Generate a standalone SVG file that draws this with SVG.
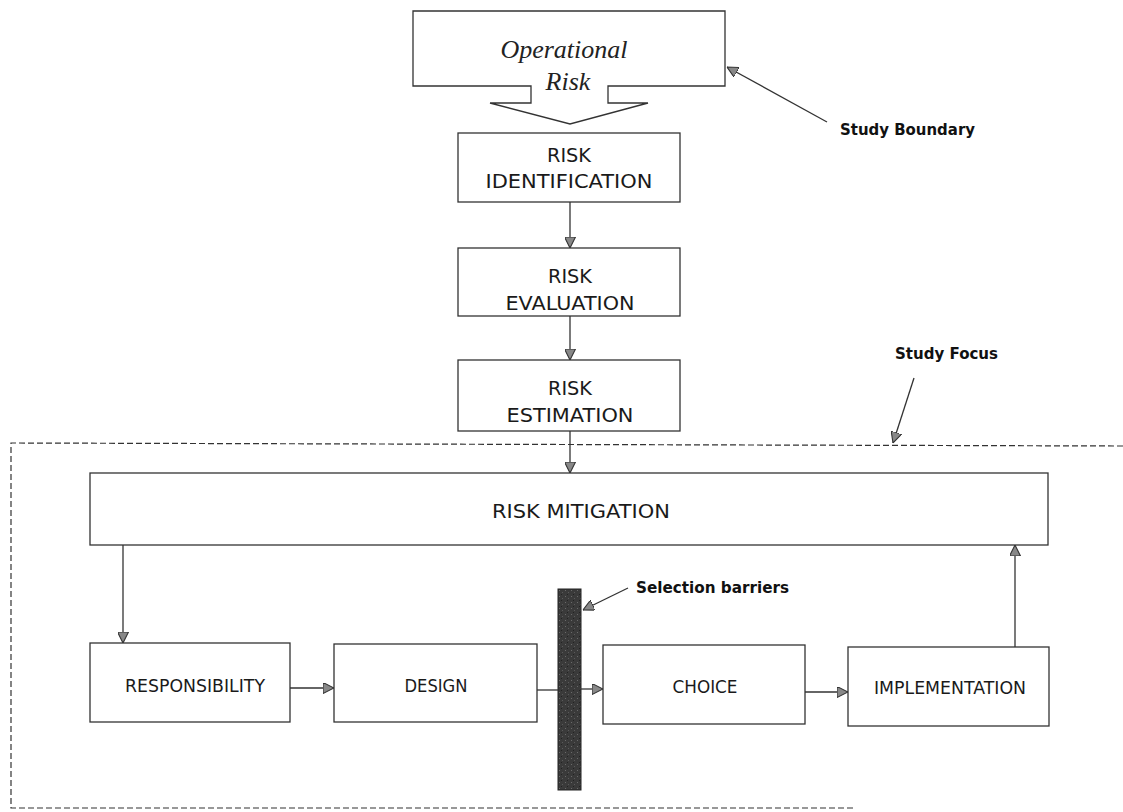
<svg xmlns="http://www.w3.org/2000/svg" width="1123" height="812" viewBox="0 0 1123 812">
  <style>
    .box { fill: #ffffff; stroke: #333333; stroke-width: 1.3; }
    .lbl { font-family: "DejaVu Sans", Verdana, sans-serif; fill: #1a1a1a; text-anchor: middle; }
    .top { font-size: 19px; }
    .mid { font-size: 20px; }
    .low { font-size: 17px; }
    .note { font-family: "DejaVu Sans", sans-serif; font-size: 16px; font-weight: 600; fill: #111111; }
    .conn { stroke: #333333; stroke-width: 1.3; fill: none; marker-end: url(#head); }
    .plain { stroke: #333333; stroke-width: 1.3; fill: none; }
    .dash { stroke: #333333; stroke-width: 1.2; fill: none; stroke-dasharray: 6 3; }
  </style>
  <defs>
    <marker id="head" viewBox="0 0 10 10" refX="10" refY="5" markerWidth="11" markerHeight="11" markerUnits="userSpaceOnUse" orient="auto">
      <path d="M0,0 L10,5 L0,10 Z" fill="#888888" stroke="#333333" stroke-width="1"/>
    </marker>
    <pattern id="grain" width="6" height="6" patternUnits="userSpaceOnUse">
      <rect width="6" height="6" fill="#3a3a3a"/>
      <rect x="1" y="2" width="1" height="1" fill="#6a6a6a"/>
      <rect x="4" y="4" width="1" height="1" fill="#5a5a5a"/>
      <rect x="3" y="0" width="1" height="1" fill="#222222"/>
    </pattern>
  </defs>

  <rect width="1123" height="812" fill="#ffffff"/>

  <!-- study focus frame (open on the right) -->
  <path class="dash" d="M1123,446 L11,443 L11,808 L853,808"/>

  <!-- Operational Risk block arrow -->
  <g id="operational-risk">
    <path class="box" d="M413,11 L725,11 L725,86 L608,86 L608,103 L648,103 L570,124 L490,103 L531,103 L531,86 L413,86 Z"/>
    <text x="564" y="58" font-family="'Liberation Serif', 'Times New Roman', serif" font-style="italic" font-size="26" fill="#222222" text-anchor="middle">Operational</text>
    <text x="568" y="90" font-family="'Liberation Serif', 'Times New Roman', serif" font-style="italic" font-size="26" fill="#222222" text-anchor="middle">Risk</text>
  </g>

  <g id="risk-identification">
    <rect class="box" x="458" y="133" width="222" height="69"/>
    <text class="lbl top" x="569" y="162" textLength="44" lengthAdjust="spacingAndGlyphs">RISK</text>
    <text class="lbl top" x="569" y="188" textLength="167" lengthAdjust="spacingAndGlyphs">IDENTIFICATION</text>
  </g>

  <g id="risk-evaluation">
    <rect class="box" x="458" y="248" width="222" height="68"/>
    <text class="lbl top" x="570" y="283" textLength="44" lengthAdjust="spacingAndGlyphs">RISK</text>
    <text class="lbl top" x="570" y="310" textLength="129" lengthAdjust="spacingAndGlyphs">EVALUATION</text>
  </g>

  <g id="risk-estimation">
    <rect class="box" x="458" y="360" width="222" height="71"/>
    <text class="lbl top" x="570" y="395" textLength="44" lengthAdjust="spacingAndGlyphs">RISK</text>
    <text class="lbl top" x="570" y="422" textLength="127" lengthAdjust="spacingAndGlyphs">ESTIMATION</text>
  </g>

  <g id="risk-mitigation">
    <rect class="box" x="90" y="473" width="958" height="72"/>
    <text class="lbl mid" x="581" y="518" textLength="178" lengthAdjust="spacingAndGlyphs">RISK MITIGATION</text>
  </g>

  <g id="responsibility">
    <rect class="box" x="90" y="643" width="200" height="79"/>
    <text class="lbl low" x="195" y="692" textLength="140" lengthAdjust="spacingAndGlyphs">RESPONSIBILITY</text>
  </g>

  <g id="design">
    <rect class="box" x="334" y="644" width="203" height="78"/>
    <text class="lbl low" x="436" y="692" textLength="63" lengthAdjust="spacingAndGlyphs">DESIGN</text>
  </g>

  <g id="choice">
    <rect class="box" x="603" y="645" width="202" height="79"/>
    <text class="lbl low" x="705" y="693" textLength="65" lengthAdjust="spacingAndGlyphs">CHOICE</text>
  </g>

  <g id="implementation">
    <rect class="box" x="848" y="647" width="201" height="79"/>
    <text class="lbl low" x="950" y="694" textLength="152" lengthAdjust="spacingAndGlyphs">IMPLEMENTATION</text>
  </g>

  <!-- selection barrier bar -->
  <g id="selection-barrier">
    <rect x="558" y="589" width="23" height="201" fill="url(#grain)" stroke="#222222" stroke-width="1"/>
  </g>

  <!-- connectors -->
  <g id="connectors">
    <line class="conn" x1="570" y1="202" x2="570" y2="248"/>
    <line class="conn" x1="570" y1="316" x2="570" y2="360"/>
    <line class="conn" x1="570" y1="431" x2="570" y2="473"/>
    <line class="conn" x1="123" y1="545" x2="123" y2="643"/>
    <line class="conn" x1="290" y1="688" x2="334" y2="688"/>
    <line class="plain" x1="537" y1="690" x2="558" y2="690"/>
    <line class="conn" x1="581" y1="689" x2="603" y2="689"/>
    <line class="conn" x1="805" y1="692" x2="848" y2="692"/>
    <line class="conn" x1="1015" y1="647" x2="1015" y2="545"/>
  </g>

  <!-- annotations -->
  <g id="study-boundary">
    <line class="conn" x1="827" y1="122" x2="727" y2="67"/>
    <text class="note" x="840" y="135" textLength="135" lengthAdjust="spacingAndGlyphs">Study Boundary</text>
  </g>
  <g id="study-focus">
    <line class="conn" x1="914" y1="378" x2="893" y2="443"/>
    <text class="note" x="895" y="359" textLength="103" lengthAdjust="spacingAndGlyphs">Study Focus</text>
  </g>
  <g id="selection-barriers-note">
    <line class="conn" x1="628" y1="588" x2="583" y2="610"/>
    <text class="note" x="636" y="593" textLength="153" lengthAdjust="spacingAndGlyphs">Selection barriers</text>
  </g>
</svg>
